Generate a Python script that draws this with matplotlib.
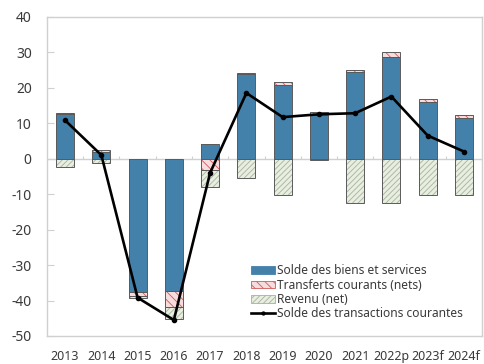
import numpy as np
import matplotlib.pyplot as plt

plt.rcParams['font.family'] = ['Noto Sans', 'DejaVu Sans']
plt.rcParams['axes.unicode_minus'] = False
plt.rcParams['hatch.linewidth'] = 0.6

years = ["2013", "2014", "2015", "2016", "2017", "2018", "2019", "2020",
         "2021", "2022p", "2023f", "2024f"]
biens_services = [12.7, 1.9, -37.5, -37.2, 4.0, 23.9, 20.8, 12.3, 24.3, 28.6, 16.1, 11.4]
transferts = [0.3, 0.5, -1.2, -4.7, -3.2, 0.2, 0.9, 0.8, 0.8, 1.4, 0.8, 0.8]
revenu = [-2.3, -1.3, -0.5, -3.3, -4.7, -5.5, -10.3, -0.5, -12.4, -12.4, -10.2, -10.2]
solde_courant = [10.8, 1.0, -39.2, -45.5, -4.0, 18.5, 11.7, 12.5, 12.8, 17.5, 6.5, 2.0]

x = np.arange(len(years))
w = 0.5
edge = "#5a5a5a"
grey = "#d0d0d0"
txt = "#3a3a3a"

fig = plt.figure(figsize=(4.84, 3.64), dpi=100)
ax = fig.add_axes([0.097, 0.077, 0.899, 0.877])

# empilement : positifs vers le haut, négatifs vers le bas
pos_base = np.zeros(len(x))
neg_base = np.zeros(len(x))
series = [
    (biens_services, "#4381ab", "#4381ab", None, "Solde des biens et services"),
    (transferts, "#f6dcdc", "#d05a5a", "\\\\\\\\", "Transferts courants (nets)"),
    (revenu, "#e8efe0", "#a8b0a0", "//////", "Revenu (net)"),
]
handles = []
for vals, face, hcol, hatch, label in series:
    vals = np.array(vals)
    bottom = np.where(vals >= 0, pos_base, neg_base)
    ax.bar(x, vals, w, bottom=bottom, color=face, edgecolor=hcol, hatch=hatch,
           linewidth=0, zorder=2)
    ax.bar(x, vals, w, bottom=bottom, fill=False, edgecolor=edge,
           linewidth=0.7, zorder=3)
    pos_base = pos_base + np.where(vals >= 0, vals, 0)
    neg_base = neg_base + np.where(vals < 0, vals, 0)
    handles.append(plt.Rectangle((0, 0), 1, 1, facecolor=face, edgecolor=hcol,
                                 hatch=hatch, linewidth=0.6, label=label))

line, = ax.plot(x, solde_courant, color="black", lw=1.9, marker="o", ms=3,
                zorder=4, label="Solde des transactions courantes")
handles.append(line)

# ligne du zéro avec petites graduations entre les catégories
ax.axhline(0, color=grey, lw=1.0, zorder=1)
ax.vlines(x[:-1] + 0.5, 0, 0.7, color=grey, lw=0.8, zorder=1)

ax.set_xlim(-0.5, len(x) - 0.5)
ax.set_ylim(-50, 40)
ax.set_yticks(np.arange(-50, 41, 10))
ax.set_xticks(x)
ax.set_xticklabels(years)
ax.tick_params(axis="y", direction="in", length=5, color=grey, pad=11,
               labelsize=10, labelcolor=txt)
ax.tick_params(axis="x", length=0, pad=10, labelsize=9, labelcolor=txt)
for s in ax.spines.values():
    s.set_color(grey)
    s.set_linewidth(1.0)

ax.legend(handles=handles, loc="lower left", bbox_to_anchor=(0.445, 0.015),
          frameon=False, fontsize=8.6, labelspacing=0.12, handletextpad=0.15,
          handlelength=2.0, handleheight=0.6, labelcolor=txt, markerscale=0.7)

fig.savefig("out.png", dpi=100)
